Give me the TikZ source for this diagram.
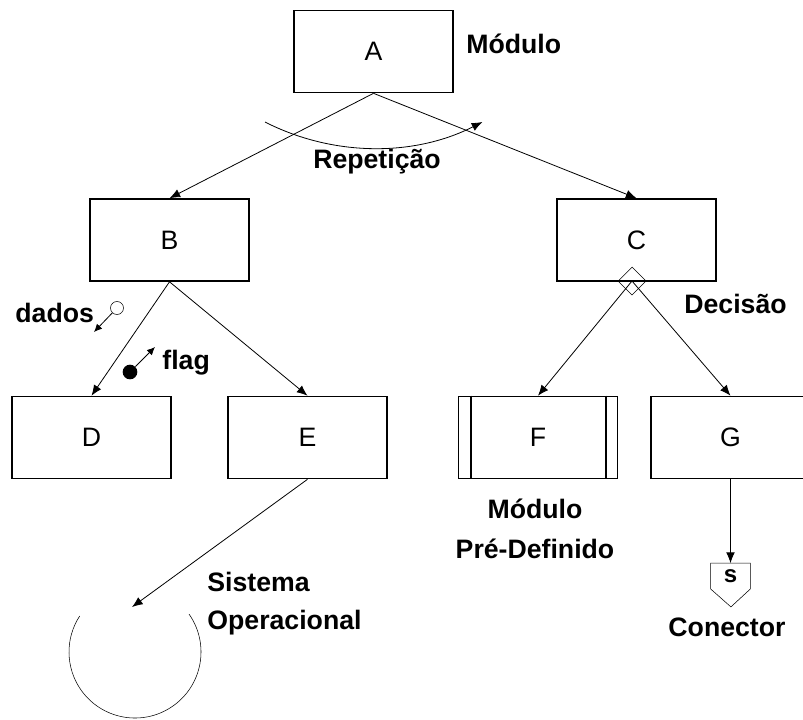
\documentclass[tikz,border=0pt]{standalone}
\usepackage{fontspec}
\setmainfont{Liberation Sans}
\usetikzlibrary{positioning, shapes.geometric, arrows.meta}

\begin{document}
\begin{tikzpicture}[-{Latex[length=8pt, width=6.5pt]}, x=0.75pt, y=-0.75pt, semithick,
            modulo/.style ={rectangle, draw, line width=1.2pt, minimum width=119pt,
            minimum height=61.5pt, font=\fontsize{20}{24}\selectfont},
            rotulo/.style ={font=\bfseries\fontsize{20}{24}\selectfont, inner sep=0pt},
            decisao/.style ={diamond, draw, thin, minimum size=21pt, inner sep=0pt}]

        \useasboundingbox (0,0) rectangle (803,719);
        \clip (0,0) rectangle (803,719);

        %\node [estilo] (nome) at (posicao) {};

        \node[modulo] (A) at (373.5, 51.5) {A};

        \node[modulo] (B) at (169.5, 240) {B};
        \node[modulo] (C) at (636.5, 240) {C};

        \node[modulo] (D) at (91.5, 437.5) {D};
        \node[modulo] (E) at (307.5, 437.5) {E};
        \node[modulo] (F) at (538, 437.5) {F};
        \node[modulo] (G) at (730.5, 437.5) {G};

        % modulo pre-definido
        \draw[-, line width=1.2pt] ([xshift=9.75pt]F.north west) -- ([xshift=9.75pt]F.south west);
        \draw[-, line width=1.2pt] ([xshift=-9pt]F.north east) -- ([xshift=-9pt]F.south east);

        \node[decisao] (dec) at (632, 281) {};

        % conector
        \node[minimum width=29.25pt, minimum height=18.75pt, inner sep=0pt,
              font=\bfseries\fontsize{18}{20}\selectfont] (S) at (730.5, 576) {s};
        \draw[-, thin] (S.north west) -- (S.north east) -- (S.south east)
            -- ++(-19.5, 18) -- (S.south west) -- cycle;

        % sistema operacional
        \coordinate (SOc) at (135, 652);
        \coordinate (SO) at (132, 607);
        \draw[-, thin] (SOc) ++(-35:66) arc[start angle=-35, end angle=213, radius=66];

        % dados e flag
        \node[circle, draw, thin, minimum size=9.75pt, inner sep=0pt] (dados) at (117, 308) {};
        \coordinate (dadosp) at (94, 332);
        \node[circle, fill, minimum size=11pt, inner sep=0pt] (flag) at (130, 372) {};
        \coordinate (flagp) at (155, 347);

        %%--------------------------caminhos----------------

        \path (A.south) edge (B.north);
        \path (A.south) edge (C.north);
        \path (B.south) edge (D.north);
        \path (B.south) edge (E.north);
        \path (dec.center) edge (F.north);
        \path (dec.center) edge (G.north);
        \path (G.south) edge (S.north);
        \path (E.south) edge (SO);

        \path[-{Latex[length=6pt, width=5.5pt]}] (dados) edge (dadosp);
        \path[-{Latex[length=6pt, width=5.5pt]}] (flag) edge (flagp);

        % repeticao
        \draw (265, 122) arc[start angle=117, end angle=63, radius=239.4];

        %%--------------------------rotulos------------------

        \node[rotulo, anchor=west] (lmod) at (466, 44) {Módulo};
        \node[rotulo] (lrep) at (377, 162) {Repetição};
        \node[rotulo, anchor=west] (ldados) at (15, 313) {dados};
        \node[rotulo, anchor=west] (lflag) at (162, 363) {flag};
        \node[rotulo, anchor=west] (ldec) at (684, 304) {Decisão};
        \node[rotulo, align=center] (lpre) at (535, 529) {Módulo\\[6pt]Pré-Definido};
        \node[rotulo, align=left, anchor=west] (lso) at (207, 603.5) {Sistema\\[4pt]Operacional};
        \node[rotulo] (lcon) at (727, 627) {Conector};

    \end{tikzpicture}
\end{document}
